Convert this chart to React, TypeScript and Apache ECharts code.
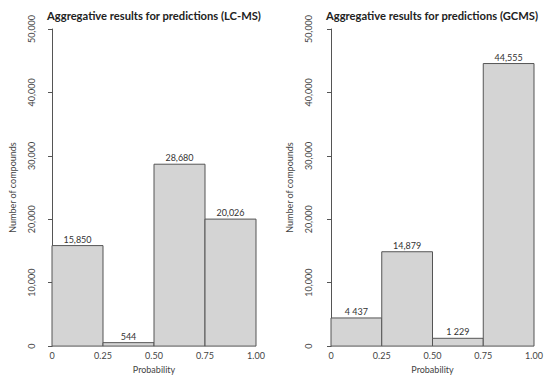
import React, { useEffect, useRef } from "react";
import * as echarts from "echarts";

const binStarts = [0, 0.25, 0.5, 0.75];
const binEnds = [0.25, 0.5, 0.75, 1.0];
const lcmsValues = [15850, 544, 28680, 20026];
const lcmsLabels = ["15,850", "544", "28,680", "20,026"];
const gcmsValues = [4437, 14879, 1229, 44555];
const gcmsLabels = ["4 437", "14,879", "1 229", "44,555"];
const xTickLabels: Record<string, string> = { "0": "0", "0.25": "0.25", "0.5": "0.50", "0.75": "0.75", "1": "1.00" };
const titles = ["Aggregative results for predictions (LC-MS)", "Aggregative results for predictions (GCMS)"];

const FONT = "Lato";

function makeData(values: number[], labels: string[]) {
  return values.map((v, i) => [binStarts[i], binEnds[i], v, labels[i]]);
}

const renderItem = (params: any, api: any) => {
  const s = api.value(0);
  const e = api.value(1);
  const v = api.value(2);
  const p0 = api.coord([s, 0]);
  const p1 = api.coord([e, v]);
  return {
    type: "group",
    children: [
      {
        type: "rect",
        shape: { x: p0[0], y: p1[1], width: p1[0] - p0[0], height: p0[1] - p1[1] },
        style: { fill: "#d4d4d4", stroke: "#555555", lineWidth: 1 },
      },
      {
        type: "text",
        x: (p0[0] + p1[0]) / 2,
        y: p1[1] - 2,
        style: {
          text: String(api.value(3)),
          textAlign: "center",
          textVerticalAlign: "bottom",
          fill: "#333",
          fontSize: 9,
          fontFamily: FONT,
        },
      },
    ],
  };
};

export default function App() {
  const ref = useRef<HTMLDivElement>(null);
  useEffect(() => {
    const chart = echarts.init(ref.current!, null, { renderer: "svg" });
    const grids = [
      { left: 52, right: 294, top: 29, bottom: 31 },
      { left: 331, right: 16, top: 29, bottom: 31 },
    ];
    const yOffsets = [8, 10];
    const titleCenters = [154, 432];
    chart.setOption({
      animation: false,
      backgroundColor: "#fff",
      graphic: titles.map((t, i) => ({
        type: "text",
        x: titleCenters[i],
        y: 15,
        style: {
          text: t,
          textAlign: "center",
          textVerticalAlign: "middle",
          fontSize: 11.2,
          fontWeight: "bold",
          fill: "#222",
          fontFamily: FONT,
        },
      })),
      grid: grids,
      xAxis: grids.map((_, i) => ({
        type: "value",
        gridIndex: i,
        min: 0,
        max: 1,
        interval: 0.25,
        axisLine: { show: false },
        axisTick: { show: false },
        splitLine: { show: false },
        axisLabel: {
          formatter: (v: number) => xTickLabels[String(v)] ?? String(v),
          fontSize: 9,
          color: "#444",
          fontFamily: FONT,
          margin: 5,
        },
        name: "Probability",
        nameLocation: "middle",
        nameGap: 16,
        nameTextStyle: { fontSize: 9, color: "#444", fontFamily: FONT },
      })),
      yAxis: grids.map((_, i) => ({
        type: "value",
        gridIndex: i,
        min: 0,
        max: 50000,
        interval: 10000,
        offset: yOffsets[i],
        axisLine: { show: true, lineStyle: { color: "#555", width: 1 } },
        axisTick: { show: true, length: 4, lineStyle: { color: "#555" } },
        splitLine: { show: false },
        axisLabel: {
          rotate: 90,
          fontSize: 9,
          color: "#444",
          fontFamily: FONT,
          margin: 8,
          formatter: (v: number) => v.toLocaleString("en-US"),
        },
        name: "Number of compounds",
        nameLocation: "middle",
        nameRotate: 90,
        nameGap: 27,
        nameTextStyle: { fontSize: 9, color: "#444", fontFamily: FONT },
      })),
      series: [
        {
          type: "custom",
          xAxisIndex: 0,
          yAxisIndex: 0,
          renderItem,
          data: makeData(lcmsValues, lcmsLabels),
          encode: { x: [0, 1], y: 2 },
        },
        {
          type: "custom",
          xAxisIndex: 1,
          yAxisIndex: 1,
          renderItem,
          data: makeData(gcmsValues, gcmsLabels),
          encode: { x: [0, 1], y: 2 },
        },
      ],
    });
    return () => chart.dispose();
  }, []);
  return <div ref={ref} style={{ width: 550, height: 379, position: "absolute", left: 0, top: 0 }} />;
}
